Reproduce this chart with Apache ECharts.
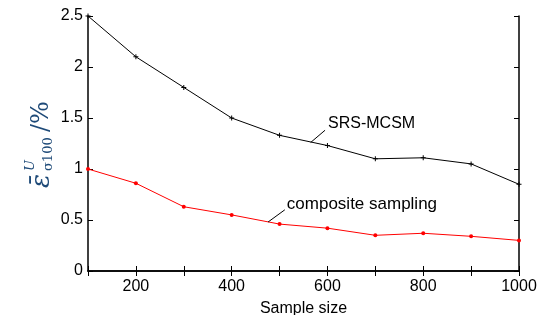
<!DOCTYPE html>
<html>
<head>
<meta charset="utf-8">
<script src="https://cdn.jsdelivr.net/npm/echarts@6/dist/echarts.min.js"></script>
<style>
  html, body { margin: 0; padding: 0; background: #fff; }
  #chart { width: 542px; height: 315px; }
</style>
</head>
<body>
<div id="chart"></div>
<script>
const sampleSize = [100, 200, 300, 400, 500, 600, 700, 800, 900, 1000]
const srsMcsm = [2.5, 2.1, 1.8, 1.5, 1.33, 1.23, 1.1, 1.11, 1.05, 0.85]
const composite = [1.0, 0.86, 0.63, 0.55, 0.46, 0.42, 0.35, 0.37, 0.34, 0.30]

// annotation leader lines in data coords
const srsLeader = [[565, 1.26], [595, 1.38]]
const compLeader = [[476, 0.48], [511, 0.60]]

const font = 'Liberation Sans, Arial, sans-serif'
const chart = echarts.init(document.getElementById('chart'))

const axisCommon = {
  axisLine: { lineStyle: { color: '#000', width: 1.5 } },
  axisTick: { show: true, inside: true, length: 5, lineStyle: { color: '#000' } },
  splitLine: { show: false },
}

const pairs = (xs, ys) => xs.map((x, i) => [x, ys[i]])
const cross = 'path://M4,0h2v10h-2zM0,4h10v2h-10z'

const option = {
  animation: false,
  grid: { left: 88, right: 23, top: 16, bottom: 44, containLabel: false, outerBoundsMode: 'none' },
  xAxis: [
    {
      type: 'value', min: 100, max: 1000, interval: 100,
      ...axisCommon,
      axisLabel: {
        color: '#000', fontSize: 16, fontFamily: font, margin: 8,
        formatter: (v) => (v % 200 === 0 ? String(v) : '')
      },
      name: 'Sample size', nameLocation: 'middle', nameGap: 30,
      nameTextStyle: { color: '#000', fontSize: 16, fontFamily: font },
    },
    {
      type: 'value', position: 'top', min: 100, max: 1000, interval: 100,
      ...axisCommon, axisLabel: { show: false },
    },
  ],
  yAxis: [
    {
      type: 'value', min: 0, max: 2.5, interval: 0.5,
      ...axisCommon,
      axisLabel: { color: '#000', fontSize: 16, fontFamily: font, margin: 5 },
    },
    {
      type: 'value', position: 'right', min: 0, max: 2.5, interval: 0.5,
      ...axisCommon, axisLabel: { show: false },
    },
  ],
  series: [
    {
      type: 'line', name: 'SRS-MCSM',
      data: pairs(sampleSize, srsMcsm),
      lineStyle: { color: '#000', width: 1 },
      itemStyle: { color: '#000' },
      symbol: cross, symbolSize: 5,
      markLine: {
        silent: true, symbol: 'none', label: { show: false },
        lineStyle: { color: '#000', width: 1, type: 'solid' },
        data: [[{ coord: srsLeader[0] }, { coord: srsLeader[1] }]],
      },
    },
    {
      type: 'line', name: 'composite sampling',
      data: pairs(sampleSize, composite),
      lineStyle: { color: '#ff0000', width: 1 },
      itemStyle: { color: '#ff0000' },
      symbol: 'circle', symbolSize: 4,
      markLine: {
        silent: true, symbol: 'none', label: { show: false },
        lineStyle: { color: '#000', width: 1, type: 'solid' },
        data: [[{ coord: compLeader[0] }, { coord: compLeader[1] }]],
      },
    },
  ],
}
chart.setOption(option)

// labels next to leader lines + y axis label
const p1 = chart.convertToPixel({ gridIndex: 0 }, srsLeader[1])
const p2 = chart.convertToPixel({ gridIndex: 0 }, compLeader[1])
const labelColor = '#1e4a78'
chart.setOption({
  graphic: [
    { type: 'text', x: p1[0] + 3, y: p1[1] - 7, style: { text: 'SRS-MCSM', font: '16px ' + font, fill: '#000', textVerticalAlign: 'middle' } },
    { type: 'text', x: p2[0] + 2, y: p2[1] - 5, style: { text: 'composite sampling', font: '17px ' + font, fill: '#000', textVerticalAlign: 'middle' } },
    {
      type: 'group', x: 42, y: 140, rotation: Math.PI / 2,
      children: [
        { type: 'text', x: -48, y: 0, style: { text: 'ε̄', font: 'italic 26px DejaVu Serif', fill: labelColor, textVerticalAlign: 'middle' } },
        { type: 'text', x: -31, y: -11, style: { text: 'U', font: 'italic 13px DejaVu Serif', fill: labelColor, textVerticalAlign: 'middle' } },
        { type: 'text', x: -31, y: 7, style: { text: 'σ100', font: '13px DejaVu Serif', fill: labelColor, textVerticalAlign: 'middle' } },
        { type: 'text', x: 8, y: 0, style: { text: '/%', font: '24px DejaVu Serif', fill: labelColor, textVerticalAlign: 'middle' } },
      ],
    },
  ],
})
</script>
</body>
</html>
